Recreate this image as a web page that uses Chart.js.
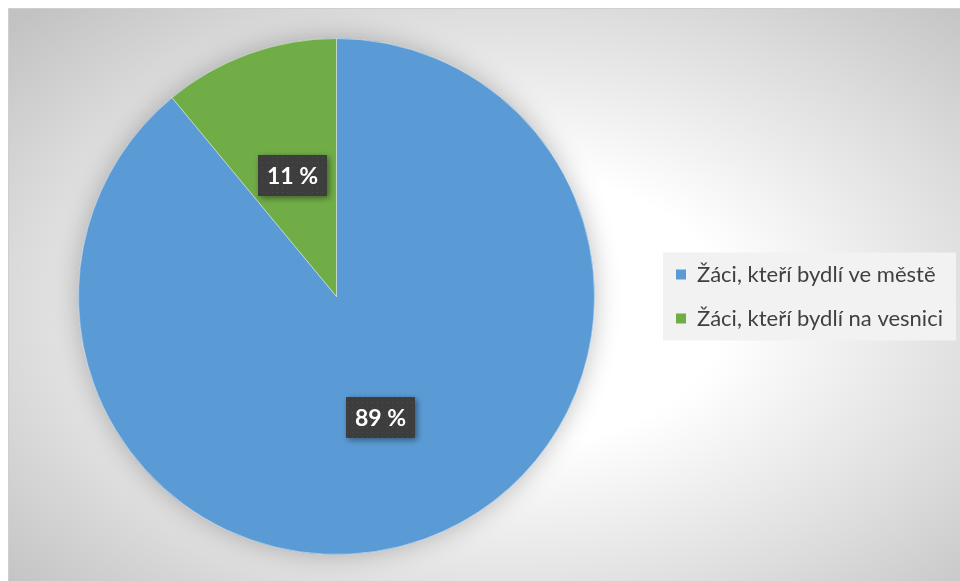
<!DOCTYPE html>
<html lang="cs">
<head>
<meta charset="UTF-8">
<meta name="viewport" content="width=device-width, initial-scale=1.0">
<title>Bydliště žáků</title>
<script src="https://cdn.jsdelivr.net/npm/chart.js"></script>
<style>
    html, body {
        margin: 0;
        padding: 0;
        background: #ffffff;
    }
    .chart-box {
        width: 960px;
        height: 581px;
    }
</style>
</head>
<body>
<div class="chart-box">
    <canvas id="pieChart"></canvas>
</div>

<script>
    // kategorie a podíly (v %)
    const categories = ['Žáci, kteří bydlí ve městě', 'Žáci, kteří bydlí na vesnici'];
    const shares = [89, 11];
    const sliceColors = ['#5b9bd5', '#70ad47'];

    const legendFont = { family: 'Lato', size: 22 };
    const legendPad = 22;
    const legendBox = 10;

    // šířka legendy (Chart.js přidává u svislé legendy +10 px) -> pravý okraj
    const measureCtx = document.createElement('canvas').getContext('2d');
    measureCtx.font = legendFont.size + 'px ' + legendFont.family;
    const textW = Math.max(...categories.map(t => measureCtx.measureText(t).width));
    const legendW = legendPad + legendBox + legendFont.size / 2 + textW + 10;
    const areaLeft = 19, areaRight = 654;
    const padRight = Math.max(0, 960 - areaRight - legendW);

    // vzorek teček na štítcích
    function dotPattern(ctx) {
        const c = document.createElement('canvas');
        c.width = 5; c.height = 5;
        const g = c.getContext('2d');
        g.fillStyle = '#3d3d3d';
        g.fillRect(0, 0, 5, 5);
        g.fillStyle = '#4c4c4c';
        g.fillRect(2, 2, 1, 1);
        return ctx.createPattern(c, 'repeat');
    }

    // pozadí s kruhovým přechodem + rámeček + podklad legendy
    const backdrop = {
        id: 'backdrop',
        beforeDraw(chart) {
            const ctx = chart.ctx;
            const W = chart.width, H = chart.height;
            ctx.save();
            ctx.fillStyle = '#ffffff';
            ctx.fillRect(0, 0, W, H);

            const fx = 8, fy = 8, fw = W - 8, fh = H - 8;
            ctx.beginPath();
            ctx.rect(fx, fy, fw, fh);
            ctx.clip();
            const cx = 510, cy = 310, rx = 480, ry = 300;
            ctx.save();
            ctx.translate(cx, cy);
            ctx.scale(1, ry / rx);
            const g = ctx.createRadialGradient(0, 0, 0, 0, 0, rx * Math.SQRT2);
            g.addColorStop(0, '#ffffff');
            g.addColorStop(0.32, '#ffffff');
            g.addColorStop(0.72, '#dcdcdc');
            g.addColorStop(1, '#c2c2c2');
            ctx.fillStyle = g;
            ctx.fillRect(-rx * 2, -rx * 2, rx * 4, rx * 4);
            ctx.restore();

            ctx.strokeStyle = '#cfcfcf';
            ctx.lineWidth = 1;
            ctx.strokeRect(fx + 0.5, fy + 0.5, fw + 2, fh + 2);
            ctx.restore();

            const boxes = chart.legend && chart.legend.legendHitBoxes;
            if (boxes && boxes.length) {
                const first = boxes[0], last = boxes[boxes.length - 1];
                const left = first.left - 13;
                const right = Math.max(...boxes.map(b => b.left + b.width)) + 13;
                const top = first.top - 11;
                const bottom = last.top + last.height + 11;
                ctx.save();
                ctx.fillStyle = '#f2f2f2';
                ctx.fillRect(left, top, right - left, bottom - top);
                ctx.restore();
            }
        }
    };

    // měkký stín pod koláčem
    const pieShadow = {
        id: 'pieShadow',
        beforeDatasetsDraw(chart) {
            const arc = chart.getDatasetMeta(0).data[0];
            if (!arc) return;
            const ctx = chart.ctx;
            ctx.save();
            ctx.shadowColor = 'rgba(0, 0, 0, 0.26)';
            ctx.shadowBlur = 26;
            ctx.fillStyle = sliceColors[0];
            ctx.beginPath();
            ctx.arc(arc.x, arc.y, arc.outerRadius, 0, Math.PI * 2);
            ctx.fill();
            ctx.restore();
        }
    };

    // tmavé štítky s procenty
    const valueTags = {
        id: 'valueTags',
        afterDatasetsDraw(chart) {
            const ctx = chart.ctx;
            const pattern = dotPattern(ctx);
            const meta = chart.getDatasetMeta(0);
            ctx.save();
            ctx.font = 'bold 23px Lato';
            meta.data.forEach((arc, i) => {
                const pos = arc.tooltipPosition();
                const text = shares[i] + ' %';
                const tw = ctx.measureText(text).width;
                const w = Math.round(tw + 18), h = 41;
                const x = Math.round(pos.x - w / 2), y = Math.round(pos.y - h / 2);

                ctx.save();
                ctx.shadowColor = 'rgba(0, 0, 0, 0.45)';
                ctx.shadowBlur = 6;
                ctx.shadowOffsetX = 2;
                ctx.shadowOffsetY = 2;
                ctx.fillStyle = pattern;
                ctx.fillRect(x, y, w, h);
                ctx.restore();

                ctx.fillStyle = '#ffffff';
                ctx.textAlign = 'center';
                ctx.textBaseline = 'middle';
                ctx.fillText(text, x + w / 2, y + h / 2 + 1);
            });
            ctx.restore();
        }
    };

    const ctx = document.getElementById('pieChart').getContext('2d');

    const pieChart = new Chart(ctx, {
        type: 'pie',
        data: {
            labels: categories,
            datasets: [{
                data: shares,
                backgroundColor: sliceColors,
                borderColor: 'rgba(255, 255, 255, 0.45)',
                borderWidth: 1
            }]
        },
        options: {
            responsive: true,
            maintainAspectRatio: false,
            animation: false,
            layout: {
                padding: { left: areaLeft, top: 38, bottom: 26, right: padRight }
            },
            plugins: {
                tooltip: { enabled: false },
                legend: {
                    display: true,
                    position: 'right',
                    labels: {
                        boxWidth: legendBox,
                        boxHeight: legendBox,
                        padding: legendPad,
                        color: '#404040',
                        font: legendFont,
                        generateLabels(chart) {
                            return Chart.overrides.pie.plugins.legend.labels.generateLabels(chart)
                                .map(item => Object.assign(item, { lineWidth: 0, strokeStyle: item.fillStyle }));
                        }
                    }
                }
            }
        },
        plugins: [backdrop, pieShadow, valueTags]
    });
</script>
</body>
</html>
